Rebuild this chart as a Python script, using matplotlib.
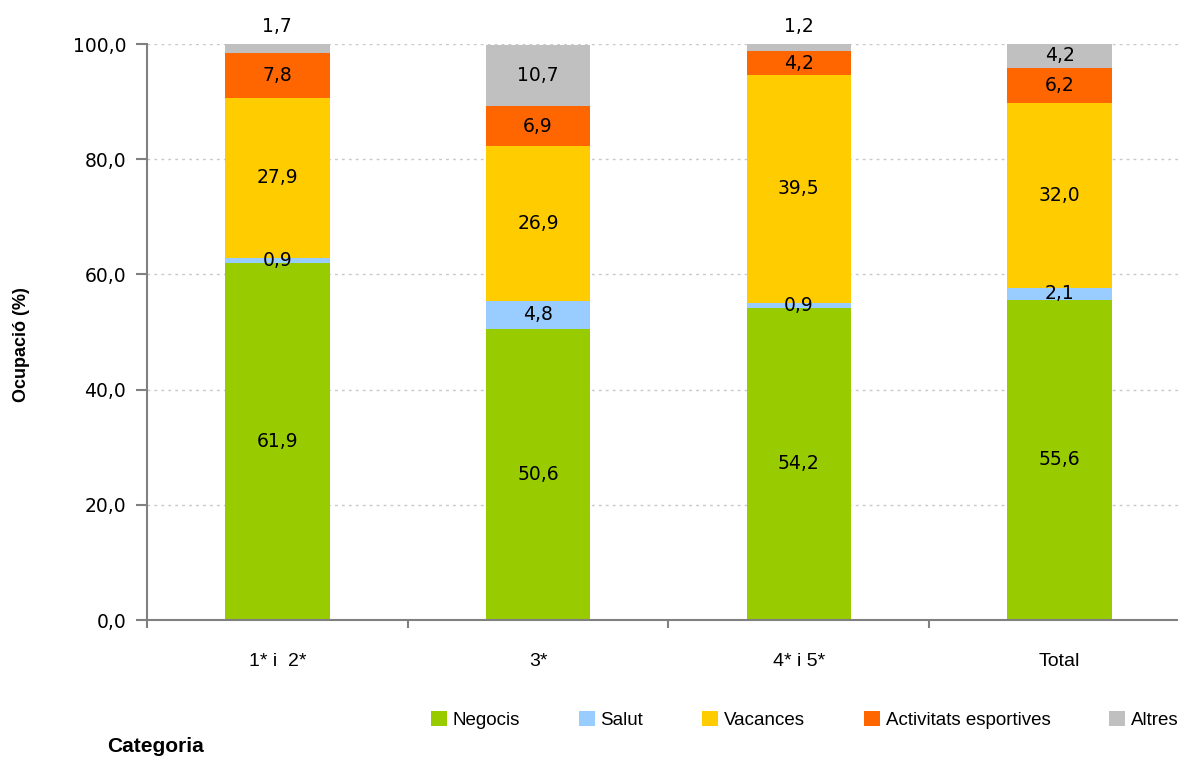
import matplotlib
matplotlib.use("Agg")
import matplotlib.pyplot as plt
import numpy as np

categories = ["1* i  2*", "3*", "4* i 5*", "Total"]
negocis = [61.9, 50.6, 54.2, 55.6]
salut = [0.9, 4.8, 0.9, 2.1]
vacances = [27.9, 26.9, 39.5, 32.0]
activitats = [7.8, 6.9, 4.2, 6.2]
altres = [1.7, 10.7, 1.2, 4.2]
series_names = ["Negocis", "Salut", "Vacances", "Activitats esportives", "Altres"]
colors = ["#99CC00", "#99CCFF", "#FFCC00", "#FF6600", "#C0C0C0"]
yticks = [0, 20, 40, 60, 80, 100]

narrow = "Liberation Sans"
label_font = "DejaVu Sans"

fig = plt.figure(figsize=(11.78, 7.58), dpi=100)
ax = fig.add_axes([147/1178, 1-620/758, (1190-147)/1178, (620-44)/758])

data = [negocis, salut, vacances, activitats, altres]
x = np.arange(len(categories))
bottom = np.zeros(len(categories))
for vals, name, col in zip(data, series_names, colors):
    vals = np.array(vals)
    ax.bar(x, vals, 0.4, bottom=bottom, color=col, label=name, zorder=2)
    for i, v in enumerate(vals):
        lab = f"{v:.1f}".replace(".", ",")
        if name == "Altres" and v < 3:
            ax.text(x[i], 103.1, lab, ha="center", va="center", fontsize=13.5,
                    family=label_font, clip_on=False)
        else:
            ax.text(x[i], bottom[i] + v/2, lab, ha="center", va="center",
                    fontsize=13.5, family=label_font, zorder=3)
    bottom += vals

ax.set_ylim(0, 100)
ax.set_xlim(-0.5, len(categories) - 0.5)
ax.set_yticks(yticks)
ax.set_yticklabels([f"{t:.1f}".replace(".", ",") for t in yticks], fontsize=13.5, family=label_font)
ax.set_xticks(x)
ax.set_xticklabels(categories, fontsize=14, family=narrow)
ax.set_xticks(np.arange(len(categories)+1) - 0.5, minor=True)
ax.tick_params(axis="x", which="major", length=0, pad=24)
ax.tick_params(axis="x", which="minor", length=6, color="#808080", width=1.5)
ax.tick_params(axis="y", length=8, color="#808080", width=1.5, pad=7)
for s in ["top", "right"]:
    ax.spines[s].set_visible(False)
for s in ["left", "bottom"]:
    ax.spines[s].set_color("#808080")
    ax.spines[s].set_linewidth(1.5)
ax.spines["bottom"].set_zorder(4)
ax.yaxis.grid(True, color="#C8C8C8", linestyle=(0, (2, 3)), linewidth=1.0, zorder=0)
ax.set_axisbelow(True)

fig.text(22/1178, 1-345/758, "Ocupació (%)", rotation=90, ha="center", va="center",
         fontsize=13, fontweight="bold", family="Liberation Sans")
fig.text(107/1178, 1-746/758, "Categoria", ha="left", va="center",
         fontsize=15, fontweight="bold", family="Liberation Sans")

leg = fig.legend(loc="center left", bbox_to_anchor=(431/1178, 1-720/758), ncol=5,
                 frameon=False, prop={"family": narrow, "size": 13.5},
                 handlelength=0.85, handleheight=0.85, handletextpad=0.3,
                 columnspacing=3.15, borderaxespad=0, borderpad=0)

fig.savefig("out.png", dpi=100)
